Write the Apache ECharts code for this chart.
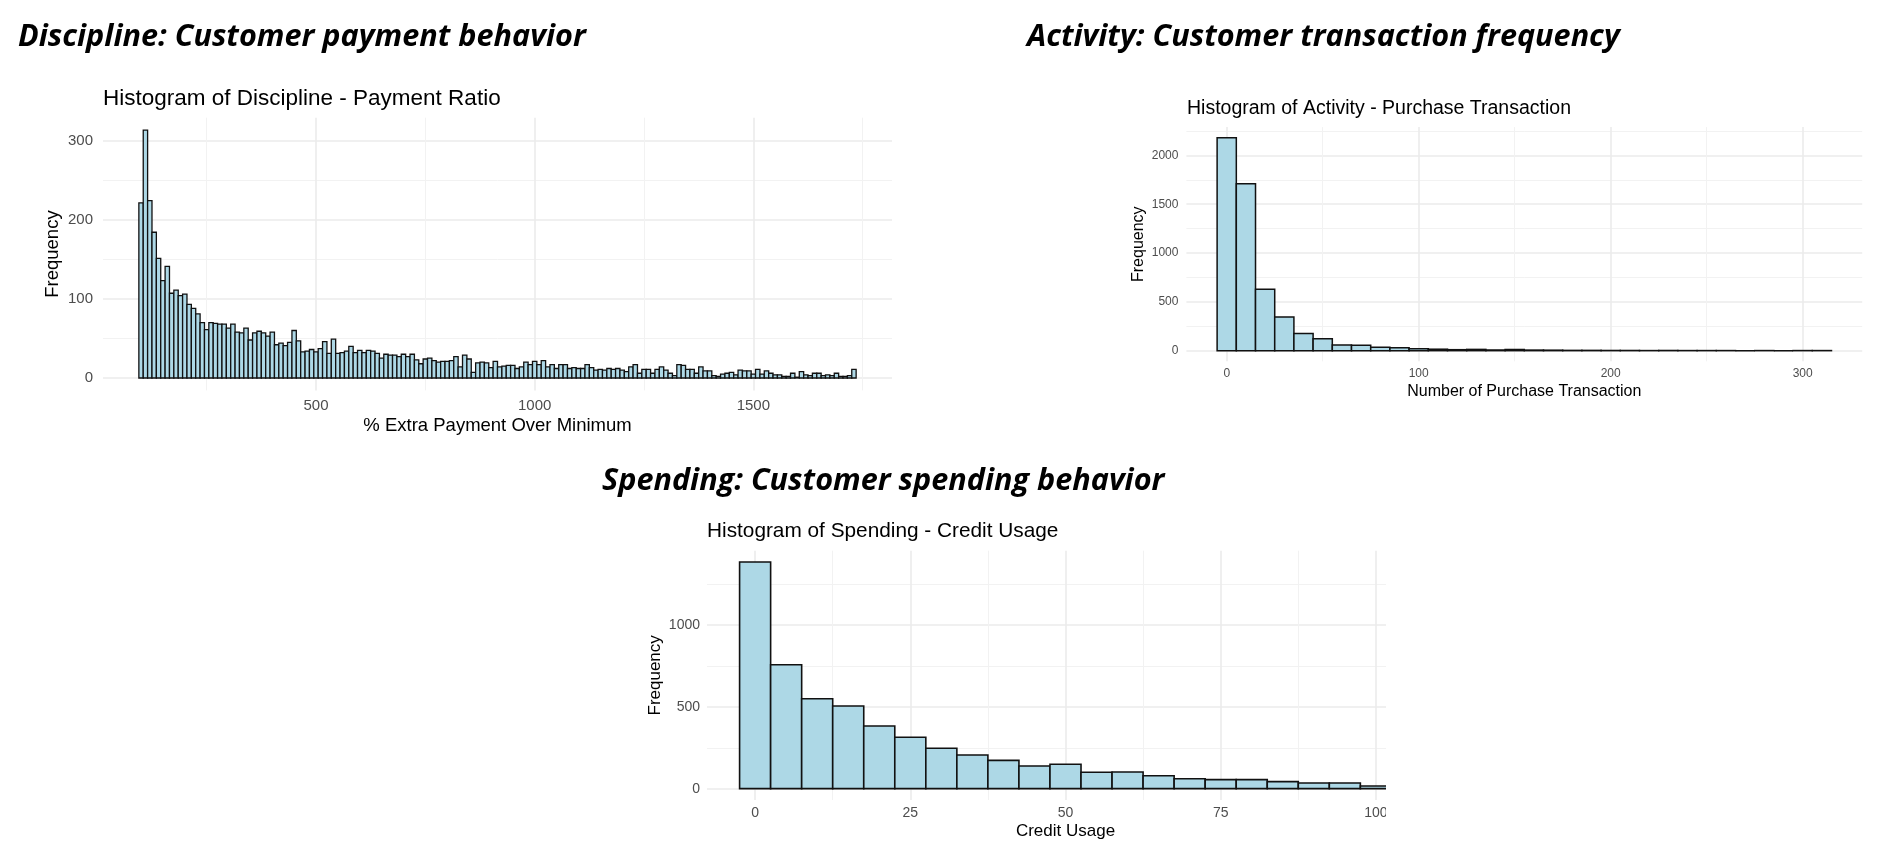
<!DOCTYPE html>
<html>
<head>
<meta charset="utf-8">
<title>Customer behavior histograms</title>
<script src="https://cdn.jsdelivr.net/npm/echarts@6/dist/echarts.min.js"></script>
<style>
  html, body { margin: 0; padding: 0; background: #fff; }
  #main { width: 1890px; height: 868px; }
</style>
</head>
<body>
<div id="main"></div>
<script>
// Discipline - payment ratio, bins of 10 starting at 100
const disciplineStart = 100;
const disciplineWidth = 10;
const disciplineCounts = [
  221, 313, 224, 184, 151, 123, 141, 107, 111, 104,
  106, 93, 88, 81, 70, 61, 70, 69, 68, 68,
  63, 68, 58, 57, 63, 48, 57, 59, 57, 53,
  58, 42, 44, 41, 45, 60, 47, 33, 34, 36,
  33, 37, 46, 31, 49, 31, 32, 34, 40, 32,
  35, 32, 35, 34, 31, 25, 30, 29, 29, 27,
  30, 27, 30, 23, 18, 24, 25, 22, 20, 21,
  21, 22, 27, 14, 29, 24, 7, 19, 20, 19,
  13, 21, 14, 15, 16, 16, 12, 14, 20, 17,
  21, 17, 22, 14, 17, 12, 17, 17, 12, 13,
  12, 12, 17, 13, 10, 11, 10, 12, 11, 12,
  10, 8, 14, 17, 6, 11, 11, 6, 11, 14,
  10, 6, 3, 17, 16, 11, 11, 6, 14, 9,
  9, 3, 2, 5, 6, 7, 4, 10, 9, 9,
  5, 11, 5, 9, 6, 4, 4, 2, 2, 6,
  1, 8, 4, 3, 6, 6, 3, 4, 3, 6,
  2, 2, 3, 11
];

// Activity - purchase transactions, bins of 10 starting at 0
const activityStart = 0;
const activityWidth = 10;
const activityCounts = [
  2181, 1710, 628, 345, 177, 123, 58, 55, 34, 31,
  20, 15, 10, 13, 7, 12, 6, 5, 3, 3,
  2, 2, 1, 2, 1, 1, 1, 0, 1, 0,
  1, 1
];

// Spending - credit usage, bins of 5 starting at 0
const spendingStart = 0;
const spendingWidth = 5;
const spendingCounts = [
  1386, 758, 550, 505, 383, 314, 247, 206, 173, 139,
  149, 100, 102, 79, 61, 55, 55, 43, 35, 35, 16
];

// tick positions: major ones carry labels, minor ones only grid lines
const disciplineXMajor = [500, 1000, 1500];
const disciplineXMinor = [250, 750, 1250, 1750];
const disciplineYMajor = [0, 100, 200, 300];
const disciplineYMinor = [50, 150, 250];

const activityXMajor = [0, 100, 200, 300];
const activityXMinor = [50, 150, 250];
const activityYMajor = [0, 500, 1000, 1500, 2000];
const activityYMinor = [250, 750, 1250, 1750, 2250];

const spendingXMajor = [0, 25, 50, 75, 100];
const spendingXMinor = [12.5, 37.5, 62.5, 87.5];
const spendingYMajor = [0, 500, 1000];
const spendingYMinor = [250, 750, 1250];

const chart = echarts.init(document.getElementById('main'), null, { renderer: 'canvas' });

const plotFont = 'Liberation Sans';
const gridColor = '#EBEBEB';
const tickColor = '#4D4D4D';

function binData(start, width, counts) {
  return counts.map(function (c, i) {
    return [start + i * width, c];
  });
}

// ggplot-like histogram bars drawn through the axes
function histSeries(idx, width, data, lineWidth) {
  return {
    type: 'custom',
    xAxisIndex: idx * 2,
    yAxisIndex: idx * 2,
    encode: { x: 0, y: 1 },
    data: data,
    renderItem: function (params, api) {
      const x = api.value(0);
      const y = api.value(1);
      const p0 = api.coord([x - width / 2, y]);
      const p1 = api.coord([x + width / 2, 0]);
      return {
        type: 'rect',
        shape: { x: p0[0], y: p0[1], width: p1[0] - p0[0], height: p1[1] - p0[1] },
        style: { fill: '#ADD8E6', stroke: '#111', lineWidth: lineWidth }
      };
    }
  };
}

function majorAxis(gridIndex, min, max, ticks, o) {
  return {
    type: 'value', gridIndex: gridIndex, min: min, max: max,
    name: o.name, nameLocation: 'middle', nameGap: o.nameGap,
    nameTextStyle: { fontFamily: plotFont, fontSize: o.nameSize, color: '#000' },
    axisLine: { show: false, onZero: false },
    axisTick: { show: false, customValues: ticks },
    axisLabel: {
      customValues: ticks, margin: o.margin,
      fontFamily: plotFont, fontSize: o.labelSize, color: tickColor,
      formatter: function (v) { return String(v); }
    },
    splitLine: { show: true, lineStyle: { color: gridColor, width: 1.6 } }
  };
}

function minorAxis(gridIndex, min, max, ticks) {
  return {
    type: 'value', gridIndex: gridIndex, min: min, max: max,
    axisLine: { show: false, onZero: false },
    axisTick: { show: false, customValues: ticks },
    axisLabel: { show: false },
    splitLine: { show: true, lineStyle: { color: '#F2F2F2', width: 1 } }
  };
}

const headingStyle = {
  fontFamily: 'Open Sans', fontStyle: 'italic', fontWeight: 'bold',
  fontSize: 30.6, lineHeight: 31, color: '#000'
};

const option = {
  backgroundColor: '#fff',
  animation: false,
  title: [
    { text: 'Discipline: Customer payment behavior', left: 18, top: 22, padding: 0, textStyle: headingStyle },
    { text: 'Activity: Customer transaction frequency', left: 1027, top: 22, padding: 0, textStyle: headingStyle },
    { text: 'Spending: Customer spending behavior', left: 602, top: 466, padding: 0, textStyle: headingStyle },
    { text: 'Histogram of Discipline - Payment Ratio', left: 103, top: 87, padding: 0,
      textStyle: { fontFamily: plotFont, fontWeight: 'normal', fontSize: 22.5, color: '#000' } },
    { text: 'Histogram of Activity - Purchase Transaction', left: 1187, top: 99, padding: 0,
      textStyle: { fontFamily: plotFont, fontWeight: 'normal', fontSize: 19.5, color: '#000' } },
    { text: 'Histogram of Spending - Credit Usage', left: 707, top: 521, padding: 0,
      textStyle: { fontFamily: plotFont, fontWeight: 'normal', fontSize: 20.8, color: '#000' } }
  ],
  grid: [
    { left: 103, top: 117.7, width: 789, height: 272.7 },
    { left: 1186.4, top: 127.1, width: 675.8, height: 234.2 },
    { left: 707, top: 550.7, width: 717, height: 249.3 }
  ],
  xAxis: [
    majorAxis(0, 13, 1817, disciplineXMajor,
      { name: '% Extra Payment Over Minimum', nameGap: 26, nameSize: 18.5, margin: 8, labelSize: 15 }),
    minorAxis(0, 13, 1817, disciplineXMinor),
    majorAxis(1, -21, 331, activityXMajor,
      { name: 'Number of Purchase Transaction', nameGap: 22, nameSize: 16, margin: 6, labelSize: 12 }),
    minorAxis(1, -21, 331, activityXMinor),
    majorAxis(2, -7.75, 107.75, spendingXMajor,
      { name: 'Credit Usage', nameGap: 23, nameSize: 17, margin: 6, labelSize: 14 }),
    minorAxis(2, -7.75, 107.75, spendingXMinor)
  ],
  yAxis: [
    majorAxis(0, -15.65, 328.65, disciplineYMajor,
      { name: 'Frequency', nameGap: 41, nameSize: 18.5, margin: 10, labelSize: 15 }),
    minorAxis(0, -15.65, 328.65, disciplineYMinor),
    majorAxis(1, -109, 2290, activityYMajor,
      { name: 'Frequency', nameGap: 40, nameSize: 16, margin: 8, labelSize: 12 }),
    minorAxis(1, -109, 2290, activityYMinor),
    majorAxis(2, -69.3, 1455, spendingYMajor,
      { name: 'Frequency', nameGap: 43, nameSize: 17, margin: 7, labelSize: 14 }),
    minorAxis(2, -69.3, 1455, spendingYMinor)
  ],
  series: [
    histSeries(0, disciplineWidth, binData(disciplineStart, disciplineWidth, disciplineCounts), 1.3),
    histSeries(1, activityWidth, binData(activityStart, activityWidth, activityCounts), 1.5),
    histSeries(2, spendingWidth, binData(spendingStart, spendingWidth, spendingCounts), 1.6)
  ],
  // the source image is cropped on the right of the spending panel
  graphic: [
    { type: 'rect', left: 1386, top: 540, z: 100, shape: { width: 120, height: 310 }, style: { fill: '#fff' } }
  ]
};

chart.setOption(option);
</script>
</body>
</html>
